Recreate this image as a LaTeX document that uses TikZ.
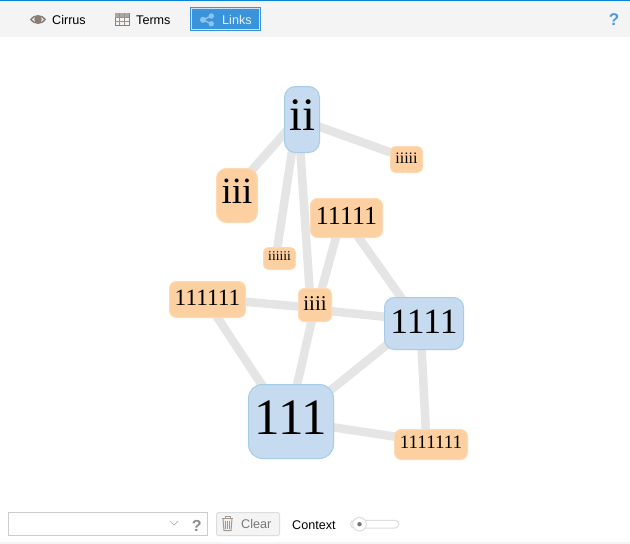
\documentclass[tikz,border=0pt]{standalone}
\usepackage{fontspec}
\setmainfont{Liberation Serif}
\newfontfamily\uifont{Liberation Sans}
\usetikzlibrary{backgrounds}
\definecolor{barbg}{HTML}{F4F4F4}
\definecolor{topline}{HTML}{0A84D6}
\definecolor{linkgrey}{HTML}{E5E5E5}
\definecolor{bluefill}{HTML}{C6DBEF}
\definecolor{blueedge}{HTML}{A6CCE6}
\definecolor{orangefill}{HTML}{FDD0A2}
\definecolor{orangeedge}{HTML}{FDD9B5}
\definecolor{btnblue}{HTML}{3A94DC}
\definecolor{btnicon}{HTML}{8CC4EE}
\definecolor{iconbrown}{HTML}{8A7F76}
\definecolor{helpblue}{HTML}{4A9BE0}
\definecolor{greytxt}{HTML}{777777}
\definecolor{lightline}{HTML}{CCCCCC}
\definecolor{softline}{HTML}{DDDDDD}
\tikzset{
  term/.style={rounded corners=#1, line width=1pt, inner sep=0pt, text=black},
  bluebox/.style={term=#1, draw=blueedge, fill=bluefill},
  orangebox/.style={term=#1, draw=orangeedge, fill=orangefill},
  sized/.style args={#1/#2/#3/#4}{minimum width=#1pt, minimum height=#2pt, font=\fontsize{#3}{#3}\selectfont, text height=#4pt, text depth=0pt},
  link/.style={draw=linkgrey, line width=8.5pt},
  uilabel/.style={font=\uifont\fontsize{12.6}{14}\selectfont, inner sep=0pt, text=black},
  helpmark/.style={font=\uifont\bfseries\fontsize{#1}{#1}\selectfont, inner sep=0pt, anchor=base},
}
\begin{document}
\begin{tikzpicture}[x=1pt,y=-1pt]
\useasboundingbox (0,0) rectangle (630,544);
% top bar
\fill[barbg] (0,0) rectangle (630,37);
\fill[topline] (0,0) rectangle (630,1.3);
\fill[barbg] (0,542) rectangle (630,544);
% graph nodes
\node[bluebox=11, sized=35/66/46.5/21] (ii) at (302,119.5) {ii};
\node[orangebox=10, sized=41/54/37/16] (iii) at (237,195.5) {iii};
\node[orangebox=5, sized=32/26/16/7] (i5) at (406.5,159.5) {iiiii};
\node[orangebox=7, sized=72/39/26/12] (d5) at (346.5,218) {11111};
\node[orangebox=5, sized=32/22/13.5/4] (i6) at (279.5,258.5) {iiiiii};
\node[orangebox=7, sized=76/36/23.3/12] (d6) at (207.5,299.5) {111111};
\node[orangebox=6, sized=33/33/21/10] (i4) at (315,305) {iiii};
\node[bluebox=10, sized=79/52/35.5/19] (d4) at (424,323.5) {1111};
\node[bluebox=14, sized=85/74/51/26] (d3) at (291,421.5) {111};
\node[orangebox=7, sized=73/30/19/8] (d7) at (431,444.5) {1111111};
\begin{scope}[on background layer]
\fill[white] (0,37) rectangle (630,542);
\draw[link] ([shift={(0,-5.9)}]ii.center) -- ([shift={(0,-8.5)}]iii.center);
\draw[link] ([shift={(0,1)}]ii.center) -- ([shift={(-.5,-1.5)}]i5.center);
\draw[link] ([shift={(-4,-7.5)}]ii.center) -- ([shift={(-3.7,-.5)}]i6.center);
\draw[link] ([shift={(-4.2,-7.5)}]ii.center) -- ([shift={(-4.4,0)}]i4.center);
\draw[link] ([shift={(-5.2,0)}]d5.center) -- ([shift={(2.3,0)}]i4.center);
\draw[link] ([shift={(-1.7,0)}]d5.center) -- ([shift={(-4.5,0)}]d4.center);
\draw[link] ([shift={(-.5,-1.2)}]d6.center) -- ([shift={(0,3)}]i4.center);
\draw[link] ([shift={(0,4.5)}]i4.center) -- ([shift={(0,-2.6)}]d4.center);
\draw[link] ([shift={(-2,0)}]d6.center) -- ([shift={(-5,0)}]d3.center);
\draw[link] ([shift={(.2,0)}]i4.center) -- ([shift={(-2.2,0)}]d3.center);
\draw[link] ([shift={(0,.5)}]d3.center) -- ([shift={(0,-8.5)}]d4.center);
\draw[link] ([shift={(-3.7,0)}]d4.center) -- ([shift={(-4.4,0)}]d7.center);
\draw[link] ([shift={(0,-.5)}]d3.center) -- ([shift={(0,-2.5)}]d7.center);
\end{scope}
% tabs
\node[uilabel, anchor=base west] (cirrus) at (52,24) {Cirrus};
\fill[iconbrown, even odd rule] (30,19.5) .. controls (34,13.5) and (42,13.5) .. (46,19.5) .. controls (42,25.5) and (34,25.5) .. (30,19.5)
   (31.8,19.5) .. controls (35,15.5) and (41,15.5) .. (44.2,19.5) .. controls (41,23.5) and (35,23.5) .. (31.8,19.5);
\fill[iconbrown] (38,19.5) circle (3.8);
\node[uilabel, anchor=base west] (terms) at (136,24) {Terms};
\draw[iconbrown, line width=1pt, fill=barbg] (115,13.3) rectangle (129,25);
\fill[iconbrown!70] (115,13.3) rectangle (129,16.5);
\draw[iconbrown!85, line width=.7pt] (115,17) -- (129,17) (115,21) -- (129,21) (119.8,13.3) -- (119.8,25) (124.4,13.3) -- (124.4,25);
\fill[btnblue] (190.3,7.3) rectangle (260.7,30.7);
\draw[white!75!btnblue, line width=.8pt] (191.4,8.4) rectangle (259.6,29.6);
\draw[btnicon, line width=1.4pt] (203,19.8) -- (211.3,16) (203,19.8) -- (211.3,23.8);
\fill[btnicon] (203,19.8) circle (3) (211.3,16) circle (2.7) (211.3,23.8) circle (2.7);
\node[uilabel, anchor=base west, text=white!88!btnblue] (links) at (222,24) {Links};
\node[helpmark=17, text=helpblue] (help) at (614,25.5) {?};
% bottom controls
\draw[lightline, line width=1pt, fill=white] (8.5,512.5) rectangle (207.5,535.5);
\draw[greytxt!60, line width=.7pt] (170,521) -- (174,525) -- (178,521);
\node[helpmark=16, text=greytxt!85] (q2) at (196.7,531) {?};
\draw[softline, line width=1pt, fill=barbg, rounded corners=2pt] (216.5,512.5) rectangle (279.5,535.5);
\draw[iconbrown!80, line width=1pt, fill=iconbrown!12] (223,519) -- (224,530.5) -- (231,530.5) -- (232,519);
\draw[iconbrown!80, line width=1.2pt] (221.7,518.3) -- (233.3,518.3);
\draw[iconbrown!80, line width=1pt] (225,518) -- (225,516.5) -- (230,516.5) -- (230,518);
\draw[iconbrown!80, line width=.6pt] (225.6,521) -- (225.6,528.5) (227.5,521) -- (227.5,528.5) (229.4,521) -- (229.4,528.5);
\node[uilabel, anchor=base west, text=greytxt] (clear) at (241,528) {Clear};
\node[uilabel, anchor=base west] (context) at (292,529) {Context};
\draw[softline, line width=1pt, fill=white, rounded corners=3.7pt] (350.5,520.3) rectangle (398.7,528);
\draw[softline, line width=1pt, fill=white] (359.5,524.2) circle (6.8);
\fill[greytxt] (359.5,524.2) circle (2.2);
\end{tikzpicture}
\end{document}
